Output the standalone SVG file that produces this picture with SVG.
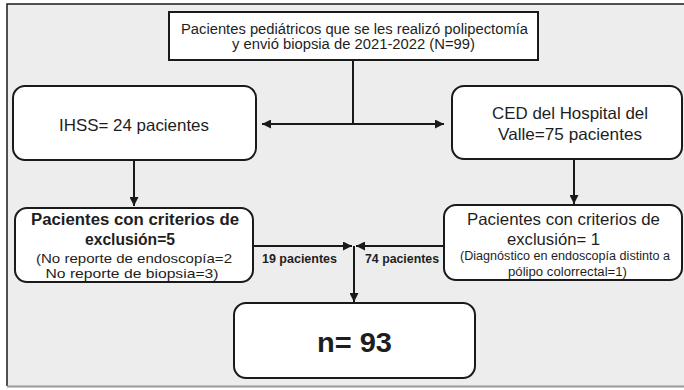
<svg xmlns="http://www.w3.org/2000/svg" width="684" height="390" viewBox="0 0 684 390">
<style>
.bx{fill:#ffffff;stroke:#1a1a1a;stroke-width:2}
.ln{fill:none;stroke:#1a1a1a;stroke-width:2}
text{font-family:"Liberation Sans",Arial,sans-serif;fill:#1e1e1e;text-anchor:middle}
.b{font-weight:bold}
</style>
<defs>
<marker id="ah" viewBox="0 0 10 10" refX="10" refY="5" markerWidth="9" markerHeight="9" markerUnits="userSpaceOnUse" orient="auto-start-reverse">
<path d="M0,0 L10,5 L0,10 Z" fill="#1a1a1a"/>
</marker>
</defs>
<rect x="0" y="0" width="684" height="390" fill="#ffffff"/>
<rect x="7" y="4" width="680" height="382" fill="#ededed"/>
<path d="M7,386 V4 H684" fill="none" stroke="#1a1a1a" stroke-width="1.5"/>
<path d="M7,386.5 H684" stroke="#9a9a9a" stroke-width="2"/>

<g id="connectors">
<path class="ln" d="M353,60 V124"/>
<path class="ln" d="M262,124 H444" marker-start="url(#ah)" marker-end="url(#ah)"/>
<path class="ln" d="M134,160 V206" marker-end="url(#ah)"/>
<path class="ln" d="M574,159 V204" marker-end="url(#ah)"/>
<path class="ln" d="M253,246 H352" marker-end="url(#ah)"/>
<path class="ln" d="M444,246 H356" marker-end="url(#ah)"/>
<path class="ln" d="M354,246 V302" marker-end="url(#ah)"/>
<text class="b" x="299.5" y="263" font-size="12" textLength="75" lengthAdjust="spacingAndGlyphs">19 pacientes</text>
<text class="b" x="402" y="263" font-size="12" textLength="74" lengthAdjust="spacingAndGlyphs">74 pacientes</text>
</g>

<g id="top">
<rect x="169" y="12" width="369" height="48" fill="#fff" stroke="#1a1a1a" stroke-width="2"/>
<text x="354.5" y="34" font-size="14" textLength="347" lengthAdjust="spacingAndGlyphs">Pacientes pediátricos que se les realizó polipectomía</text>
<text x="353.5" y="49" font-size="14" textLength="243" lengthAdjust="spacingAndGlyphs">y envió biopsia de 2021-2022 (N=99)</text>
</g>

<g id="ihss">
<rect class="bx" x="13" y="86" width="243" height="74" rx="12"/>
<text x="134" y="131" font-size="16.5" textLength="150" lengthAdjust="spacingAndGlyphs">IHSS= 24 pacientes</text>
</g>

<g id="ced">
<rect class="bx" x="452" y="86" width="230" height="73" rx="12"/>
<text x="570" y="119" font-size="16.5" textLength="156" lengthAdjust="spacingAndGlyphs">CED del Hospital del</text>
<text x="570" y="140" font-size="16.5" textLength="144" lengthAdjust="spacingAndGlyphs">Valle=75 pacientes</text>
</g>

<g id="excl-left">
<rect class="bx" x="15" y="208" width="238" height="74" rx="12"/>
<text class="b" x="135" y="225" font-size="16" textLength="208" lengthAdjust="spacingAndGlyphs">Pacientes con criterios de</text>
<text class="b" x="130" y="245" font-size="16" textLength="90" lengthAdjust="spacingAndGlyphs">exclusión=5</text>
<text x="134" y="262.5" font-size="13" textLength="196" lengthAdjust="spacingAndGlyphs">(No reporte de endoscopía=2</text>
<text x="132" y="277.5" font-size="13" textLength="173" lengthAdjust="spacingAndGlyphs">No reporte de biopsia=3)</text>
</g>

<g id="excl-right">
<rect class="bx" x="444" y="205" width="238" height="75" rx="12"/>
<text x="563.5" y="225" font-size="16.5" textLength="193" lengthAdjust="spacingAndGlyphs">Pacientes con criterios de</text>
<text x="553.5" y="245" font-size="16.5" textLength="93" lengthAdjust="spacingAndGlyphs">exclusión= 1</text>
<text x="565" y="260" font-size="12" textLength="210" lengthAdjust="spacingAndGlyphs">(Diagnóstico en endoscopía distinto a</text>
<text x="567.5" y="276" font-size="12" textLength="119" lengthAdjust="spacingAndGlyphs">pólipo colorrectal=1)</text>
</g>

<g id="total">
<rect class="bx" x="234" y="303" width="241" height="75" rx="12"/>
<text class="b" x="354.5" y="352" font-size="28" textLength="75" lengthAdjust="spacingAndGlyphs">n= 93</text>
</g>
</svg>
